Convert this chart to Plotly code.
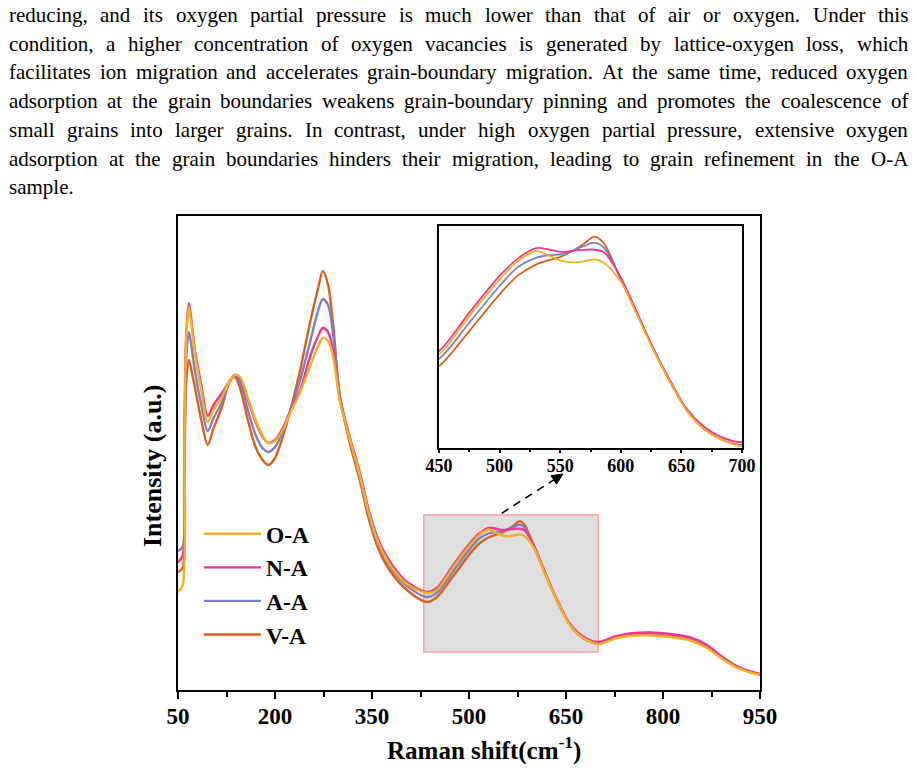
import plotly.graph_objects as go

W, H = 916, 768
FONT = "Liberation Serif"

# ---------------- data ----------------
raman_shift = [50, 57, 60, 63, 67, 72, 76, 86, 96, 105, 118, 130, 138, 146, 158, 170, 182, 190, 200,
               212, 223, 239, 255, 266, 274, 282, 290, 300, 316, 331, 345, 360, 378, 404, 435, 450,
               475, 500, 515, 530, 540, 550, 560, 570, 578, 586, 600, 613, 627, 641, 655, 669, 683,
               700, 726, 749, 780, 811, 842, 868, 893, 914, 935, 950]

int_OA = [98, 104, 255, 355, 383, 358, 337, 300, 268, 280, 293, 309, 315, 313, 292, 270, 253, 247, 249,
          260, 276, 298, 325, 343, 352, 349, 333, 290, 250, 215, 177, 147, 125, 106, 97, 99.7,
          122.2, 143.8, 154.5, 160.5, 158, 155, 153.8, 154.5, 155.6, 153.6, 142.5, 123.5, 102, 83, 66, 55.6, 49.7,
          45.8, 51.5, 54, 54.5, 53, 49.5, 42, 30.5, 22.5, 17.5, 15]

int_NA = [128, 134, 270, 360, 387, 362, 340, 305, 274, 285, 297, 309, 315, 312, 290, 268, 252, 247, 250,
          262, 278, 300, 335, 353, 362, 358, 340, 292, 252, 218, 180, 150, 128, 108, 98, 101.7,
          124.2, 145.8, 156, 162.2, 161.5, 160, 160.5, 161.2, 161.3, 159.8, 145, 125, 103, 84, 67, 57, 51,
          48, 53.5, 56.5, 57.5, 56, 52.5, 45, 32.5, 24, 18.5, 16]

int_AA = [139, 143, 240, 335, 358, 338, 320, 285, 259, 272, 288, 308, 315, 308, 280, 255, 241, 238, 243,
          258, 278, 310, 350, 378, 391, 385, 355, 295, 250, 213, 175, 145, 123, 104, 93, 97.1,
          118.3, 139.9, 151, 156.5, 158, 158.5, 160.5, 163.5, 165.4, 162.5, 144, 124.5, 102.6, 83, 66.4, 55.6, 49.7,
          46.5, 53, 56, 57, 55.5, 52, 44.5, 32, 23.5, 18, 15.5]

int_VA = [118, 122, 225, 310, 330, 316, 303, 270, 245, 262, 283, 309, 313, 302, 270, 243, 229, 225, 232,
          253, 278, 320, 370, 400, 419, 405, 365, 295, 246, 210, 171, 141, 119, 100, 88, 92.8,
          113.4, 135, 146, 152.5, 155, 157, 160.5, 165, 168.9, 165, 143.8, 124, 102.6, 83, 66.4, 55.6, 49.7,
          46, 52.5, 55, 55.7, 54, 50.7, 43.3, 31.7, 23.3, 18, 15.5]

series_names = ["O-A", "N-A", "A-A", "V-A"]
series_colors = ["#F3B11F", "#EC3A8E", "#7D7FC8", "#D8611C"]
series_values = [int_OA, int_NA, int_AA, int_VA]

main_ticks = [50, 200, 350, 500, 650, 800, 950]
main_minor = [125, 275, 425, 575, 725, 875]
inset_ticks = [450, 500, 550, 600, 650, 700]
inset_minor = [475, 525, 575, 625, 675]

paragraph = [
    "reducing, and its oxygen partial pressure is much lower than that of air or oxygen. Under this",
    "condition, a higher concentration of oxygen vacancies is generated by lattice-oxygen loss, which",
    "facilitates ion migration and accelerates grain-boundary migration. At the same time, reduced oxygen",
    "adsorption at the grain boundaries weakens grain-boundary pinning and promotes the coalescence of",
    "small grains into larger grains. In contrast, under high oxygen partial pressure, extensive oxygen",
    "adsorption at the grain boundaries hinders their migration, leading to grain refinement in the O-A",
    "sample.",
]

# ---------------- helpers ----------------
def px(xp):
    return xp / W

def py(yp):
    return 1 - yp / H

TR = {' ': 250, ',': 250, '.': 250, '-': 333, '(': 333, ')': 333,
      'A': 722, 'I': 333, 'O': 722, 'U': 722,
      'a': 444, 'b': 500, 'c': 444, 'd': 500, 'e': 444, 'f': 333, 'g': 500, 'h': 500, 'i': 278,
      'j': 278, 'k': 500, 'l': 278, 'm': 778, 'n': 500, 'o': 500, 'p': 500, 'q': 500, 'r': 333,
      's': 389, 't': 278, 'u': 500, 'v': 500, 'w': 722, 'x': 500, 'y': 500, 'z': 444}

def tw(s, size):
    return sum(TR.get(c, 500) for c in s) * size / 1000.0

fig = go.Figure()

for name, col, vals in reversed(list(zip(series_names, series_colors, series_values))):
    fig.add_trace(go.Scatter(x=raman_shift, y=vals, mode="lines", name=name,
                             line=dict(color=col, width=2.4, shape="spline", smoothing=0.85),
                             xaxis="x", yaxis="y"))
for name, col, vals in reversed(list(zip(series_names, series_colors, series_values))):
    fig.add_trace(go.Scatter(x=raman_shift, y=vals, mode="lines", name=name, showlegend=False,
                             line=dict(color=col, width=1.8, shape="spline", smoothing=0.85),
                             xaxis="x2", yaxis="y2"))

ann = []
PS = 21
PFONT = dict(family="Liberation Serif, Times New Roman, serif", size=PS, color="black", weight="normal")
left, right = 8, 907
for i, line in enumerate(paragraph):
    words = line.split(" ")
    ycen = 15 + i * 28.7
    widths = [tw(w, PS) for w in words]
    if i < len(paragraph) - 1 and len(words) > 1:
        gap = (right - left - sum(widths)) / (len(words) - 1)
    else:
        gap = tw(" ", PS)
    x = left
    for w, wd in zip(words, widths):
        ann.append(dict(x=px(x), y=py(ycen), xref="paper", yref="paper", text=w, showarrow=False,
                        xanchor="left", yanchor="middle", borderpad=0, font=PFONT))
        x += wd + gap

ann.append(dict(x=px(484), y=py(731), xref="paper", yref="paper",
                text="<b>Raman shift(cm<sup>-1</sup>)</b>", showarrow=False, borderpad=0,
                xanchor="center", yanchor="top", font=dict(family=FONT, size=25, color="black")))
ann.append(dict(x=px(152), y=py(466), xref="paper", yref="paper",
                text="<b>Intensity (a.u.)</b>", showarrow=False, textangle=-90,
                xanchor="center", yanchor="middle", font=dict(family=FONT, size=26, color="black")))

# dashed pointer from the grey box to the inset, with a filled head (pixel layout -> paper)
tail = (501.7, 513.3)
tip = (563.0, 474.0)
dx, dy = tip[0] - tail[0], tip[1] - tail[1]
L = (dx * dx + dy * dy) ** 0.5
ux, uy = dx / L, dy / L
nx, ny = -uy, ux
base = (tip[0] - 11 * ux, tip[1] - 11 * uy)
c1 = (base[0] + 5 * nx, base[1] + 5 * ny)
c2 = (base[0] - 5 * nx, base[1] - 5 * ny)
head_path = "M {:.4f},{:.4f} L {:.4f},{:.4f} L {:.4f},{:.4f} Z".format(
    px(tip[0]), py(tip[1]), px(c1[0]), py(c1[1]), px(c2[0]), py(c2[1]))

shapes = [
    dict(type="rect", xref="x", yref="y", x0=430, x1=700, y0=38, y1=175,
         fillcolor="#DEDEDE", line=dict(color="#F4A3A3", width=1.5), layer="below"),
    dict(type="line", xref="paper", yref="paper", x0=px(tail[0]), y0=py(tail[1]),
         x1=px(base[0]), y1=py(base[1]),
         line=dict(color="black", width=1.6, dash="8px,6px")),
    dict(type="path", xref="paper", yref="paper", path=head_path,
         fillcolor="black", line=dict(color="black", width=1)),
]

axis_font = dict(family=FONT, size=23, color="black", weight="bold")
inset_font = dict(family=FONT, size=18, color="black", weight="bold")

fig.update_layout(
    template="none",
    width=W, height=H, margin=dict(l=0, r=0, t=0, b=0, pad=0, autoexpand=False),
    autosize=False,
    paper_bgcolor="white", plot_bgcolor="white",
    showlegend=True,
    legend=dict(x=px(199), y=py(512), xanchor="left", yanchor="top", traceorder="reversed",
                bgcolor="rgba(0,0,0,0)", borderwidth=0,
                font=dict(family=FONT, size=23.5, color="black", weight="bold"),
                itemwidth=57, tracegroupgap=0),
    xaxis=dict(domain=[px(178), px(760)], range=[50, 950], tickmode="array", tickvals=main_ticks,
               ticks="outside", ticklen=7, tickwidth=2, tickcolor="black", ticklabelstandoff=-3,
               minor=dict(ticks="outside", ticklen=5, tickwidth=2, tickcolor="black",
                          tickmode="array", tickvals=main_minor),
               showline=True, linecolor="black", linewidth=2, mirror=True, automargin=False,
               showgrid=False, zeroline=False, tickfont=axis_font, anchor="y"),
    yaxis=dict(domain=[py(690), py(216)], range=[0, 474], showticklabels=False, ticks="",
               showline=True, linecolor="black", linewidth=2, mirror=True, automargin=False,
               showgrid=False, zeroline=False, anchor="x"),
    xaxis2=dict(domain=[px(439), px(742)], range=[450, 700], tickmode="array", tickvals=inset_ticks,
                ticks="outside", ticklen=3, tickwidth=1.5, tickcolor="black", ticklabelstandoff=-3,
                minor=dict(ticks="outside", ticklen=2, tickwidth=1.5, tickcolor="black",
                           tickmode="array", tickvals=inset_minor),
                showline=True, linecolor="black", linewidth=2, mirror=True, automargin=False,
                showgrid=False, zeroline=False, tickfont=inset_font, anchor="y2"),
    yaxis2=dict(domain=[py(448), py(226)], range=[44.6, 175.2], showticklabels=False, ticks="",
                showline=True, linecolor="black", linewidth=2, mirror=True, automargin=False,
                showgrid=False, zeroline=False, anchor="x2"),
    annotations=ann,
    shapes=shapes,
)

fig.write_html("out.html")
